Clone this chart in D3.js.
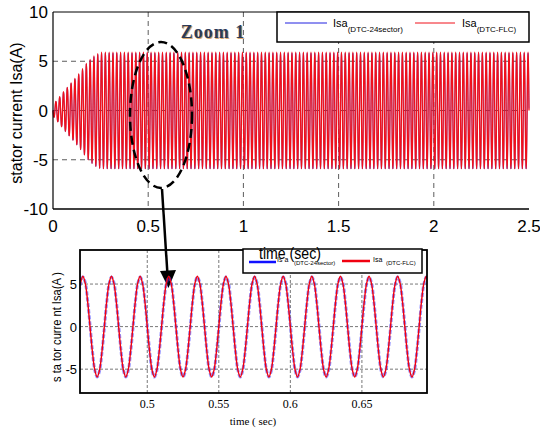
<!DOCTYPE html>
<html>
<head>
<meta charset="utf-8">
<script src="https://cdn.jsdelivr.net/npm/d3@7"></script>
<style>
  body { margin: 0; background: #fff; }
  svg { display: block; }
  text { font-family: Arial, "Liberation Sans", sans-serif; }
  .serif { font-family: "Times New Roman", "Liberation Serif", serif; }
</style>
</head>
<body>
<svg id="chart" width="540" height="432"></svg>
<script>
/*---------------------
  ------- DATA --------
  ---------------------*/
// one 50 Hz period (0.02 s), 12 samples (A)
var period = 0.02;
var firstPeak = 0.015;
var cycleRed  = [5.8, 5.0, 2.9, 0.0, -2.9, -5.0, -5.8, -5.0, -2.9, 0.0, 2.9, 5.0];
var cycleBlue = [5.7, 5.1, 3.0, 0.2, -2.8, -5.0, -5.8, -5.1, -3.0, -0.2, 2.8, 4.9];
// start-up envelope (fraction of steady amplitude)
var envTime  = [0, 0.03, 0.06, 0.10, 0.14, 0.18, 0.22, 0.25, 2.5];
var envScale = [0.10, 0.22, 0.35, 0.50, 0.66, 0.85, 0.97, 1.02, 1.02];

var topXTicks = [0, 0.5, 1, 1.5, 2, 2.5];
var topYTicks = [-10, -5, 0, 5, 10];
var botXTicks = [0.5, 0.55, 0.6, 0.65];
var botYTicks = [-5, 0, 5];

/*---------------------
  ------ SERIES -------
  ---------------------*/
var env = d3.scaleLinear().domain(envTime).range(envScale).clamp(true);

function build_series(cycle) {
    var pts = [];
    for (var k = -1; k <= 126; k++) {
        for (var i = 0; i < cycle.length; i++) {
            var t = firstPeak + (k + i / cycle.length) * period;
            if (t < 0 || t > 2.5) continue;
            pts.push({t: t, v: cycle[i] * env(t)});
        }
    }
    return pts;
}
var red = build_series(cycleRed);
var blue = build_series(cycleBlue);

var svg = d3.select("#chart");

/*---------------------
  ---- TOP CHART ------
  ---------------------*/
var xT = d3.scaleLinear().domain([0, 2.5]).range([53, 529]);
var yT = d3.scaleLinear().domain([-10, 10]).range([209, 12]);

var gT = svg.append("g");

gT.selectAll(".vgrid").data(topXTicks.slice(1, -1)).enter()
    .append("line")
    .attr("x1", xT).attr("x2", xT)
    .attr("y1", yT(10)).attr("y2", yT(-10))
    .attr("stroke", "#333").attr("stroke-dasharray", "5,4").attr("stroke-width", 0.8);
gT.selectAll(".hgrid").data([-5, 0, 5]).enter()
    .append("line")
    .attr("x1", xT(0)).attr("x2", xT(2.5))
    .attr("y1", yT).attr("y2", yT)
    .attr("stroke", "#333").attr("stroke-dasharray", "5,4").attr("stroke-width", 0.8);

var lineT = d3.line().x(function(d){ return xT(d.t); }).y(function(d){ return yT(d.v); })
    .curve(d3.curveCatmullRom);

gT.append("path").datum(blue).attr("d", lineT)
    .attr("fill", "none").attr("stroke", "#2020e0").attr("stroke-width", 0.7);
gT.append("path").datum(red).attr("d", lineT)
    .attr("fill", "none").attr("stroke", "#f0101a").attr("stroke-width", 1.3);

// frame: left, bottom, top
gT.append("line").attr("x1", xT(0)).attr("x2", xT(0)).attr("y1", yT(10)).attr("y2", yT(-10))
    .attr("stroke", "#000").attr("stroke-width", 1.2);
gT.append("line").attr("x1", xT(0)).attr("x2", xT(2.5)).attr("y1", yT(-10)).attr("y2", yT(-10))
    .attr("stroke", "#000").attr("stroke-width", 1.5);
gT.append("line").attr("x1", xT(0)).attr("x2", xT(2.5)).attr("y1", yT(10)).attr("y2", yT(10))
    .attr("stroke", "#000").attr("stroke-width", 1);

gT.selectAll(".ytl").data(topYTicks).enter()
    .append("text")
    .attr("x", 48).attr("y", function(d){ return yT(d) + 6; })
    .attr("text-anchor", "end").attr("font-size", 17)
    .text(function(d){ return d; });
gT.selectAll(".xtl").data(topXTicks).enter()
    .append("text")
    .attr("x", xT).attr("y", 232)
    .attr("text-anchor", "middle").attr("font-size", 17)
    .text(function(d){ return d; });

gT.append("text")
    .attr("transform", "translate(22,113) rotate(-90)")
    .attr("text-anchor", "middle").attr("font-size", 16)
    .text("stator current Isa(A)");

// legend
var lgT = gT.append("g");
lgT.append("rect").attr("x", 277).attr("y", 12).attr("width", 252).attr("height", 30)
    .attr("fill", "#fff").attr("stroke", "#000").attr("stroke-width", 1.5);
lgT.append("line").attr("x1", 285).attr("x2", 327).attr("y1", 23).attr("y2", 23)
    .attr("stroke", "#2020e0").attr("stroke-width", 1);
lgT.append("line").attr("x1", 415).attr("x2", 455).attr("y1", 23).attr("y2", 23)
    .attr("stroke", "#f0101a").attr("stroke-width", 1);
var tb = lgT.append("text").attr("x", 333).attr("y", 27).attr("font-size", 11);
tb.append("tspan").text("Isa");
tb.append("tspan").attr("dy", 5).attr("font-size", 8).text("(DTC-24sector)");
var tr = lgT.append("text").attr("x", 462).attr("y", 27).attr("font-size", 11);
tr.append("tspan").text("Isa");
tr.append("tspan").attr("dy", 5).attr("font-size", 8).text("(DTC-FLC)");

// "Zoom 1" label
gT.append("text").attr("class", "serif").attr("x", 214).attr("y", 39)
    .attr("text-anchor", "middle").attr("font-size", 18).attr("font-weight", "bold")
    .attr("letter-spacing", 1).attr("fill", "#d9a870").text("Zoom 1");
gT.append("text").attr("class", "serif").attr("x", 213).attr("y", 38)
    .attr("text-anchor", "middle").attr("font-size", 18).attr("font-weight", "bold")
    .attr("letter-spacing", 1).attr("fill", "#2c3a58").text("Zoom 1");

// dashed ellipse + arrow
gT.append("ellipse").attr("cx", 161).attr("cy", 115).attr("rx", 31).attr("ry", 73)
    .attr("fill", "none").attr("stroke", "#000").attr("stroke-width", 2.5)
    .attr("stroke-dasharray", "9,5");
svg.append("line").attr("x1", 162).attr("y1", 189).attr("x2", 167.5).attr("y2", 275)
    .attr("stroke", "#000").attr("stroke-width", 2.5);
svg.append("path").attr("d", "M160,271 L176,270 L168.5,288 Z").attr("fill", "#000");

/*---------------------
  --- BOTTOM CHART ----
  ---------------------*/
var xB = d3.scaleLinear().domain([0.453, 0.6955]).range([80, 427]);
var yB = d3.scaleLinear().domain([-7.8, 9]).range([393, 250]);
var gB = svg.append("g");

gB.append("clipPath").attr("id", "clipB").append("rect")
    .attr("x", 80).attr("y", 250).attr("width", 347).attr("height", 143);

gB.selectAll(".vgrid").data(botXTicks).enter()
    .append("line")
    .attr("x1", xB).attr("x2", xB).attr("y1", 250).attr("y2", 393)
    .attr("stroke", "#555").attr("stroke-dasharray", "3,2").attr("stroke-width", 0.8);
gB.selectAll(".hgrid").data(botYTicks).enter()
    .append("line")
    .attr("x1", 80).attr("x2", 427).attr("y1", yB).attr("y2", yB)
    .attr("stroke", "#555").attr("stroke-dasharray", "3,2").attr("stroke-width", 0.8);

var lineB = d3.line().x(function(d){ return xB(d.t); }).y(function(d){ return yB(d.v); })
    .curve(d3.curveCatmullRom);
var inB = function(d){ return d.t > 0.43 && d.t < 0.72; };

gB.append("path").datum(blue.filter(inB)).attr("d", lineB).attr("clip-path", "url(#clipB)")
    .attr("fill", "none").attr("stroke", "#3a3aff").attr("stroke-opacity", 0.55)
    .attr("stroke-width", 3).attr("stroke-dasharray", "4,2");
gB.append("path").datum(red.filter(inB)).attr("d", lineB).attr("clip-path", "url(#clipB)")
    .attr("fill", "none").attr("stroke", "#f00010").attr("stroke-width", 1.4);

gB.append("rect").attr("x", 80).attr("y", 250).attr("width", 347).attr("height", 143)
    .attr("fill", "none").attr("stroke", "#000").attr("stroke-width", 1.8);

gB.selectAll(".ytl").data(botYTicks).enter()
    .append("text")
    .attr("x", 77).attr("y", function(d){ return yB(d) + 5; })
    .attr("text-anchor", "end").attr("font-size", 13)
    .text(function(d){ return d; });
gB.selectAll(".xtl").data(botXTicks).enter()
    .append("text").attr("class", "serif")
    .attr("x", xB).attr("y", 408)
    .attr("text-anchor", "middle").attr("font-size", 12)
    .text(function(d){ return d; });
gB.append("text").attr("class", "serif").attr("x", 253).attr("y", 425)
    .attr("text-anchor", "middle").attr("font-size", 11).text("time ( sec)");
gB.append("text")
    .attr("transform", "translate(61,327) rotate(-90)")
    .attr("text-anchor", "middle").attr("font-size", 12)
    .attr("textLength", 110).attr("lengthAdjust", "spacingAndGlyphs")
    .text("s ta tor curre nt Isa(A )");

// bottom legend
var lgB = gB.append("g");
lgB.append("rect").attr("x", 243).attr("y", 249).attr("width", 179).attr("height", 24)
    .attr("fill", "#fff").attr("stroke", "#000").attr("stroke-width", 1.5);
lgB.append("line").attr("x1", 249).attr("x2", 276).attr("y1", 262).attr("y2", 262)
    .attr("stroke", "#1010ff").attr("stroke-width", 2.5);
lgB.append("line").attr("x1", 342).attr("x2", 370).attr("y1", 261).attr("y2", 261)
    .attr("stroke", "#f00010").attr("stroke-width", 2.5);
var bb = lgB.append("text").attr("x", 277).attr("y", 262).attr("font-size", 7);
bb.append("tspan").text("Is a");
bb.append("tspan").attr("x", 294).attr("dy", 3).attr("font-size", 6).text("(DTC-24sector)");
var br = lgB.append("text").attr("x", 373).attr("y", 262).attr("font-size", 7);
br.append("tspan").text("Isa");
br.append("tspan").attr("x", 386).attr("dy", 3).attr("font-size", 6).text("(DTC-FLC)");

// x label of the top chart, drawn over the lower legend as in the figure
svg.append("text").attr("x", 290).attr("y", 259)
    .attr("text-anchor", "middle").attr("font-size", 17)
    .attr("textLength", 62).attr("lengthAdjust", "spacingAndGlyphs")
    .text("time (sec)");
</script>
</body>
</html>
